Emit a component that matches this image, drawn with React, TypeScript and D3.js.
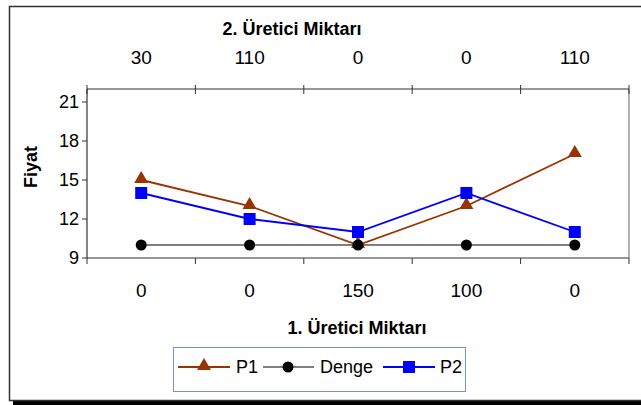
import React from "react";
import * as d3 from "d3";

const topLabels = ["30", "110", "0", "0", "110"];
const bottomLabels = ["0", "0", "150", "100", "0"];
const p1 = [15, 13, 10, 13, 17];
const denge = [10, 10, 10, 10, 10];
const p2 = [14, 12, 11, 14, 11];
const yTicks = [9, 12, 15, 18, 21];

const W = 641;
const H = 405;
const plot = { left: 87, right: 629, top: 89, bottom: 258 };
const FONT = "'Liberation Sans', Arial, sans-serif";

export default function App() {
  const idx = d3.range(topLabels.length);
  const x = d3.scaleBand<number>().domain(idx).range([plot.left, plot.right]);
  const y = d3.scaleLinear().domain([9, 22]).range([plot.bottom, plot.top]);
  const cx = (i: number) => (x(i) as number) + x.bandwidth() / 2;
  const line = d3
    .line<number>()
    .x((_, i) => cx(i))
    .y((d) => y(d));
  const tri = d3.symbol(d3.symbolTriangle, 85)();
  const boundaries = d3.range(topLabels.length + 1).map((i) => plot.left + i * x.bandwidth());

  return (
    <svg
      width={W}
      height={H}
      style={{ position: "absolute", left: 0, top: 0, background: "#fff" }}
      fontFamily={FONT}
    >
      {/* chart frame with shadow */}
      <rect x={13} y={401} width={W} height={5} fill="#000" />
      <rect x={9.5} y={6.5} width={W} height={394} fill="#fff" stroke="#333" strokeWidth={1.5} />

      {/* plot area edges */}
      <line x1={plot.right} y1={plot.top} x2={plot.right} y2={plot.bottom} stroke="#999" strokeWidth={1.5} />
      <line x1={plot.left} y1={plot.top} x2={plot.right} y2={plot.top} stroke="#333" strokeWidth={1.2} />
      <line x1={plot.left} y1={plot.top} x2={plot.left} y2={plot.bottom} stroke="#333" strokeWidth={1.2} />
      <line x1={plot.left} y1={plot.bottom} x2={plot.right} y2={plot.bottom} stroke="#333" strokeWidth={1.2} />

      {/* category boundary ticks */}
      {boundaries.map((b, i) => (
        <g key={i}>
          <line x1={b} x2={b} y1={plot.top - 4} y2={plot.top + 5} stroke="#333" strokeWidth={1} />
          <line x1={b} x2={b} y1={plot.bottom} y2={plot.bottom + 6} stroke="#333" strokeWidth={1} />
        </g>
      ))}

      {/* y ticks */}
      {yTicks.map((t) => (
        <g key={t}>
          <line x1={plot.left - 5} x2={plot.left} y1={y(t)} y2={y(t)} stroke="#333" strokeWidth={1} />
          <text x={plot.left - 8} y={y(t)} dy="0.36em" textAnchor="end" fontSize={18}>
            {t}
          </text>
        </g>
      ))}

      {/* category labels */}
      {idx.map((i) => (
        <g key={i}>
          <text x={cx(i)} y={64} textAnchor="middle" fontSize={19}>
            {topLabels[i]}
          </text>
          <text x={cx(i)} y={297} textAnchor="middle" fontSize={19}>
            {bottomLabels[i]}
          </text>
        </g>
      ))}

      {/* titles */}
      <text x={292} y={35} textAnchor="middle" fontSize={18} fontWeight="bold">
        2. Üretici Miktarı
      </text>
      <text x={357} y={334} textAnchor="middle" fontSize={18} fontWeight="bold">
        1. Üretici Miktarı
      </text>
      <text
        transform={`translate(37,167) rotate(-90)`}
        textAnchor="middle"
        fontSize={18}
        fontWeight="bold"
      >
        Fiyat
      </text>

      {/* series */}
      <path d={line(denge) ?? ""} fill="none" stroke="#000" strokeWidth={1.2} />
      <path d={line(p1) ?? ""} fill="none" stroke="#993300" strokeWidth={1.8} />
      <path d={line(p2) ?? ""} fill="none" stroke="#0000ff" strokeWidth={1.8} />
      {p1.map((v, i) => (
        <path key={"t" + i} d={tri ?? ""} transform={`translate(${cx(i)},${y(v) - 1})`} fill="#993300" />
      ))}
      {denge.map((v, i) => (
        <circle key={"c" + i} cx={cx(i)} cy={y(v)} r={5.5} fill="#000" />
      ))}
      {p2.map((v, i) => (
        <rect key={"s" + i} x={cx(i) - 6} y={y(v) - 6} width={12} height={12} fill="#0000ff" />
      ))}

      {/* legend */}
      <rect x={173.5} y={347.5} width={292} height={44} fill="#fff" stroke="#6f8fff" strokeWidth={1} />
      <g>
        <line x1={178} x2={230} y1={367} y2={367} stroke="#993300" strokeWidth={1.8} />
        <path d={tri ?? ""} transform="translate(204,366)" fill="#993300" />
        <text x={236} y={367} dy="0.36em" fontSize={18}>P1</text>
        <line x1={263} x2={314} y1={367} y2={367} stroke="#000" strokeWidth={1.2} />
        <circle cx={288} cy={367} r={5.5} fill="#000" />
        <text x={320} y={367} dy="0.36em" fontSize={18}>Denge</text>
        <line x1={383} x2={435} y1={367} y2={367} stroke="#0000ff" strokeWidth={1.8} />
        <rect x={403} y={361} width={12} height={12} fill="#0000ff" />
        <text x={440} y={367} dy="0.36em" fontSize={18}>P2</text>
      </g>
    </svg>
  );
}
